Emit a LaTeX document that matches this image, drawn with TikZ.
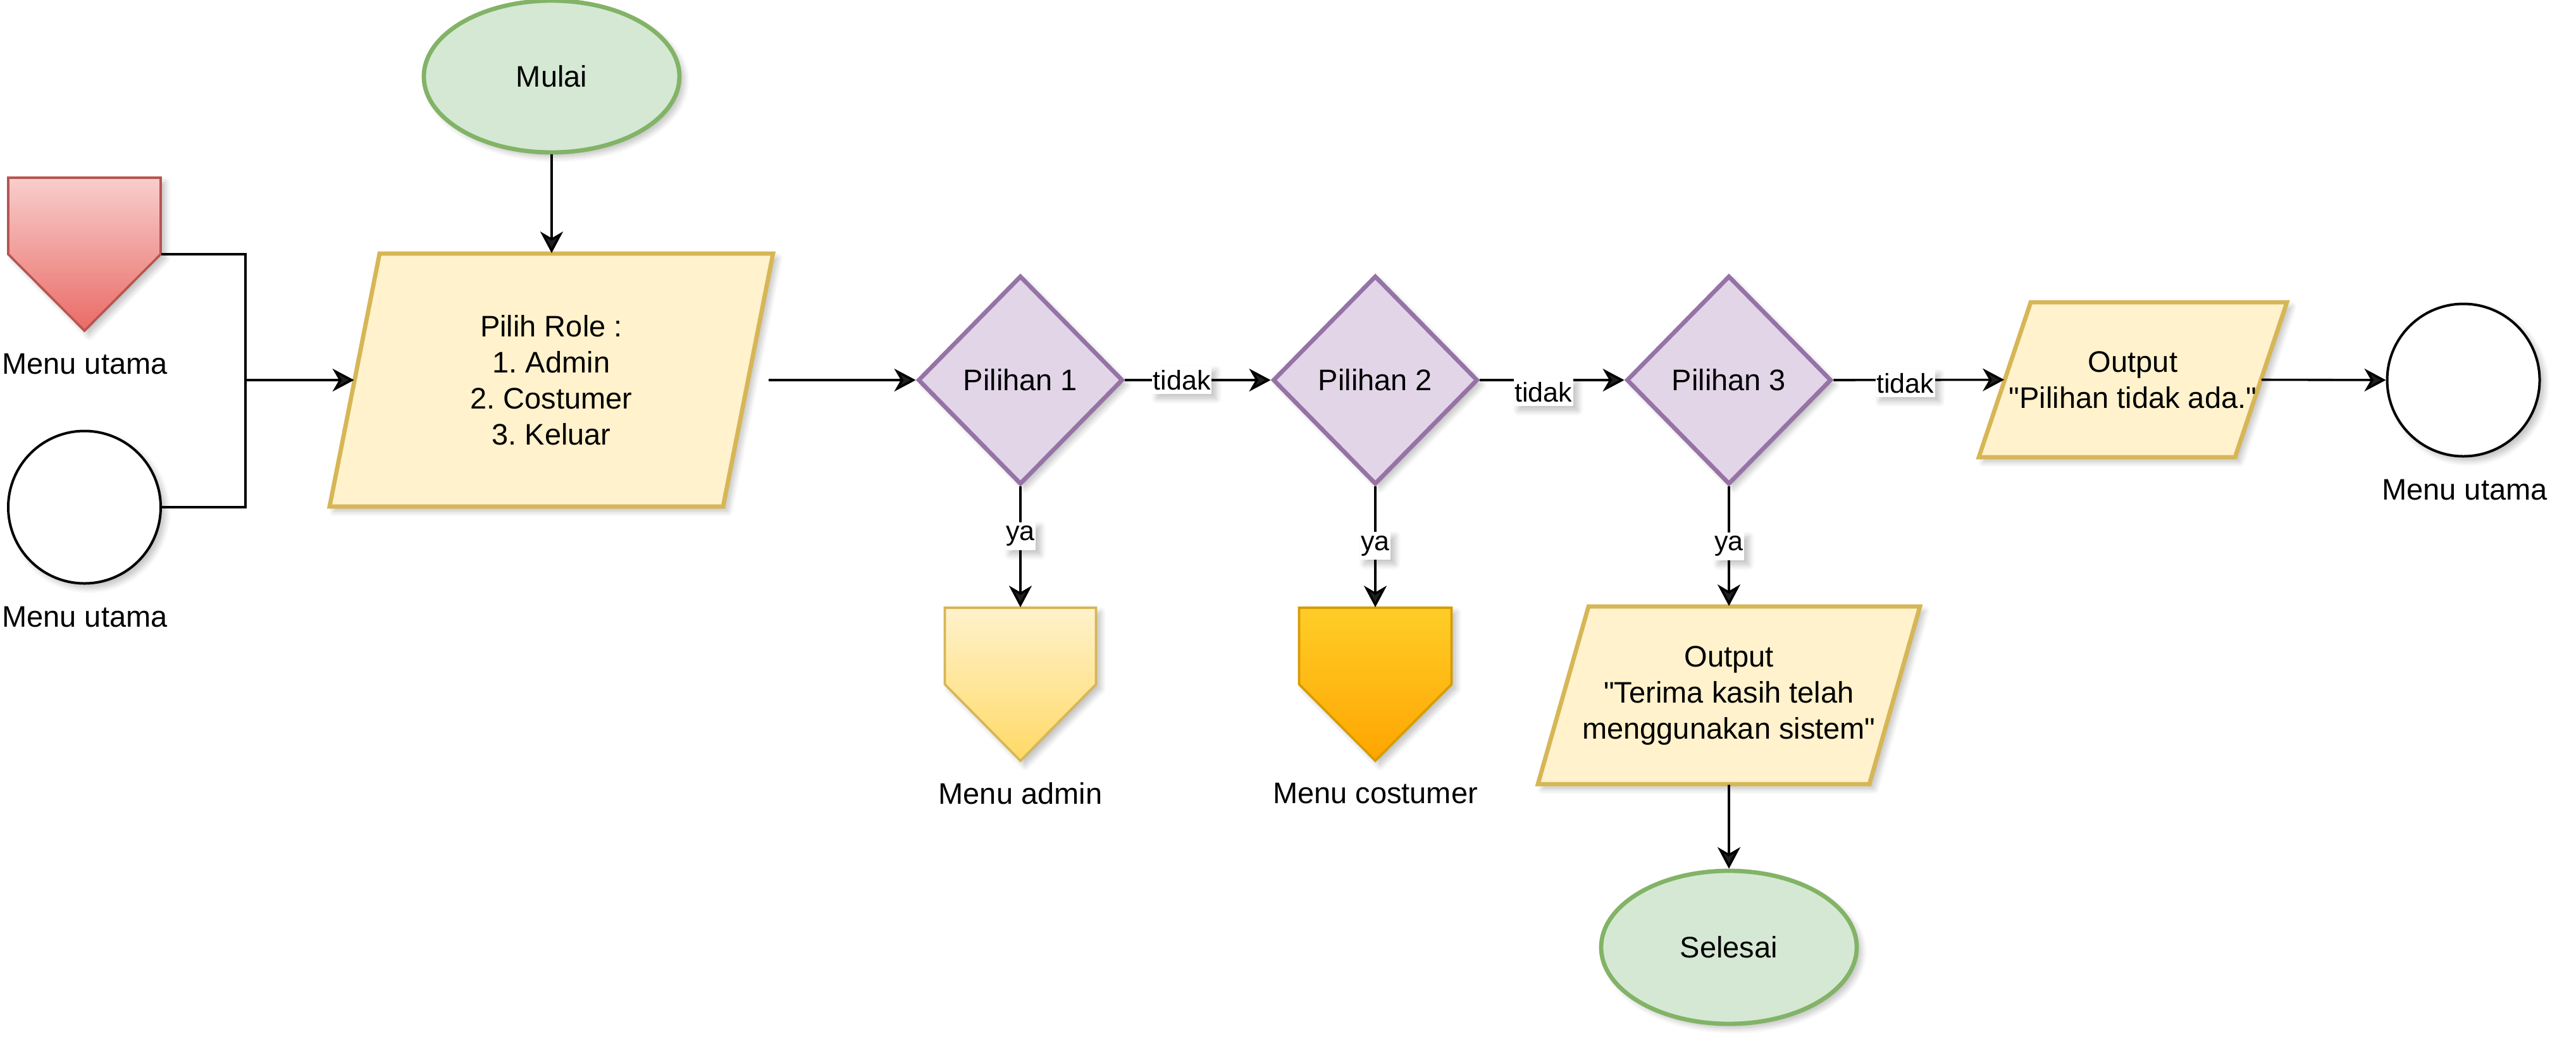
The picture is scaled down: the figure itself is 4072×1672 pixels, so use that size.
\documentclass[tikz,border=0pt]{standalone}
\usepackage{fontspec}
\setmainfont{Liberation Sans}
\frenchspacing
\usetikzlibrary{shapes.geometric, arrows.meta, calc, shadows.blur}
\definecolor{gfill}{HTML}{D5E8D4}
\definecolor{gdraw}{HTML}{82B366}
\definecolor{yfill}{HTML}{FFF2CC}
\definecolor{ydraw}{HTML}{D6B656}
\definecolor{pfill}{HTML}{E1D5E7}
\definecolor{pdraw}{HTML}{9673A6}
\definecolor{rtop}{HTML}{F8CECC}
\definecolor{rbot}{HTML}{EA6B66}
\definecolor{rdraw}{HTML}{B85450}
\definecolor{atop}{HTML}{FFF2CC}
\definecolor{abot}{HTML}{FFD966}
\definecolor{ctop}{HTML}{FFCD28}
\definecolor{cbot}{HTML}{FFA500}
\definecolor{cdraw}{HTML}{D79B00}
\tikzset{
  sh/.style={blur shadow={shadow xshift=1.8pt, shadow yshift=-1.8pt, shadow blur radius=2.2pt, shadow opacity=25, shadow blur steps=10}},
  txt/.style={font=\fontsize{11.75pt}{14.25pt}\selectfont, align=center, inner sep=0pt},
  term/.style={ellipse, draw=gdraw, fill=gfill, line width=1.7pt, txt, minimum width=101pt, minimum height=60pt, sh},
  dec/.style={diamond, draw=pdraw, fill=pfill, line width=1.7pt, txt, minimum width=81pt, minimum height=82.5pt, sh},
  conn/.style={ellipse, draw=black, fill=white, line width=1pt, inner sep=0pt, minimum width=60.25pt, minimum height=60.25pt, sh},
  box/.style={rectangle, txt},
  para/.style={draw=ydraw, fill=yfill, line width=1.7pt, line join=miter, sh},
  pent/.style={line width=0.9pt, sh},
  arr/.style={line width=0.9pt, -{Stealth[length=8.5pt, width=9pt, inset=2.6pt]}},
  ln/.style={line width=0.9pt},
  lbl/.style={fill=white, inner xsep=0.4pt, inner ysep=1.5pt, font=\fontsize{10.75pt}{13pt}\selectfont, sh},
}
\begin{document}
\begin{tikzpicture}[x=0.25pt, y=-0.25pt]
\useasboundingbox (0,0) rectangle (4072,1672);
% outlines of parallelograms and off-page connectors
\draw[para] (521,801) -- (600,401) -- (1222,401) -- (1143,801) -- cycle;
\draw[para] (3128,723) -- (3210,478) -- (3615,478) -- (3533,723) -- cycle;
\draw[para] (2431,1240) -- (2511,959) -- (3035,959) -- (2955,1240) -- cycle;
\draw[pent, draw=rdraw, top color=rtop, bottom color=rbot] (13,281) -- (254,281) -- (254,402) -- (133.5,523) -- (13,402) -- cycle;
\draw[pent, draw=ydraw, top color=atop, bottom color=abot] (1493.5,961) -- (1732.5,961) -- (1732.5,1082) -- (1613,1203) -- (1493.5,1082) -- cycle;
\draw[pent, draw=cdraw, top color=ctop, bottom color=cbot] (2053.5,961) -- (2294.5,961) -- (2294.5,1082) -- (2174,1203) -- (2053.5,1082) -- cycle;
% nodes
\node[term] (mulai) at (872,121) {Mulai};
\node[box, minimum width=175.25pt, minimum height=100pt] (role) at (871.5,601) {Pilih Role :\\1. Admin\\2. Costumer\\3. Keluar};
\node[box, minimum width=60.25pt, minimum height=60.5pt] (mu1) at (133.5,402) {};
\node[txt] (mu1l) at (134,576) {Menu utama};
\node[conn] (mu2) at (133.5,802) {};
\node[txt] (mu2l) at (134,976) {Menu utama};
\node[dec] (d1) at (1613,601) {Pilihan 1};
\node[dec] (d2) at (2174,601) {Pilihan 2};
\node[dec] (d3) at (2733,601) {Pilihan 3};
\node[box, minimum width=59.75pt, minimum height=60.5pt] (admin) at (1613,1082) {};
\node[txt] (adminl) at (1613,1255) {Menu admin};
\node[box, minimum width=60.25pt, minimum height=60.5pt] (cost) at (2174,1082) {};
\node[txt] (costl) at (2174,1255) {Menu costumer};
\node[box, minimum width=151pt, minimum height=70.25pt] (out2) at (2733,1099.5) {Output\\ \textquotedbl Terima kasih telah\\menggunakan sistem\textquotedbl};
\node[term, minimum height=60.5pt] (selesai) at (2733,1498) {Selesai};
\node[box, minimum width=121.75pt, minimum height=61.25pt] (out1) at (3371.5,600.5) {Output\\\textquotedbl Pilihan tidak ada.\textquotedbl};
\node[conn] (mu3) at (3894,601) {};
\node[txt] (mu3l) at (3896,775) {Menu utama};
% connectors
\coordinate (jn) at (388,601);
\draw[ln] (mu1.east) -| (jn);
\draw[ln] (mu2.east) -| (jn);
\draw[arr] (jn) -- ($(role.west)+(39.5,0)$);
\draw[arr] (mulai.south) -- (mulai.south |- role.north);
\draw[arr] ($(role.east)+(-8,0)$) -- (d1.west);
\draw[arr] (d1.east) -- node[lbl, pos=0.39] (t1) {tidak} (d2.west);
\draw[arr] (d2.east) -- node[lbl, pos=0.44, yshift=-4.75pt] (t2) {tidak} (d3.west);
\draw[arr] (d3.east) -- node[lbl, pos=0.42, yshift=-1.25pt] (t3) {tidak} ($(out1.west)+(41,0)$);
\draw[arr] ($(out1.east)+(-41,0)$) -- (mu3.west);
\draw[arr] (d1.south) -- node[lbl, pos=0.41] (y1) {ya} (admin.north);
\draw[arr] (d2.south) -- node[lbl, pos=0.49] (y2) {ya} (cost.north);
\draw[arr] (d3.south) -- node[lbl, pos=0.5] (y3) {ya} (out2.north);
\draw[arr] (out2.south) -- (selesai.north);
\end{tikzpicture}
\end{document}
